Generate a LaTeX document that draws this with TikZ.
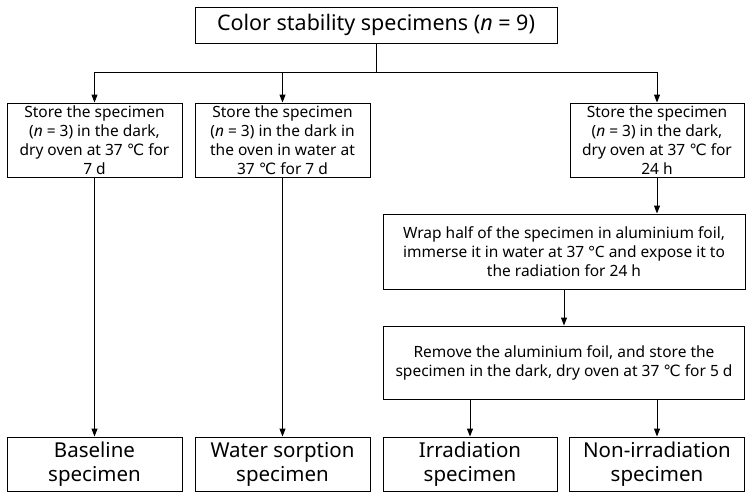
\documentclass[tikz,border=0pt]{standalone}
\usepackage{fontspec}
\setmainfont{Noto Sans}
\newfontfamily\symfont{DejaVu Sans}
\newcommand{\degc}{{\symfont ℃}}
\usetikzlibrary{arrows.meta}
\begin{document}
\begin{tikzpicture}[x=1pt, y=-1pt,
    box/.style={draw, line width=1pt, align=center, inner sep=2pt},
    small/.style={box, font=\fontsize{15.5}{19}\selectfont},
    big/.style={box, font=\fontsize{20.5}{24}\selectfont},
    arr/.style={-{Triangle[length=8pt, width=6pt]}, line width=1pt}]
    \useasboundingbox (0, 0) rectangle (753, 499);
    % top box
    \node [box, font=\fontsize{21.5}{26}\selectfont, minimum width=362pt, minimum height=36pt] (top) at (376, 25) {Color stability specimens (\textit{n} = 9)};
    % first row
    \node [small, minimum width=175pt, minimum height=74pt] (dry) at (94.5, 140) {Store the specimen\\(\textit{n} = 3) in the dark,\\dry oven at 37 \degc{} for\\7 d};
    \node [small, minimum width=175pt, minimum height=74pt] (wet) at (282.5, 140) {Store the specimen\\(\textit{n} = 3) in the dark in\\the oven in water at\\37 \degc{} for 7 d};
    \node [small, minimum width=174pt, minimum height=74pt] (dryday) at (657, 140) {Store the specimen\\(\textit{n} = 3) in the dark,\\dry oven at 37 \degc{} for\\24 h};
    % irradiation steps
    \node [small, minimum width=362pt, minimum height=75pt] (wrap) at (564, 251.5) {Wrap half of the specimen in aluminium foil,\\immerse it in water at 37 °C and expose it to\\the radiation for 24 h};
    \node [small, minimum width=361pt, minimum height=73pt] (remove) at (564, 362.5) {Remove the aluminium foil, and store the\\specimen in the dark, dry oven at 37 \degc{} for 5 d};
    % results
    \node [big, minimum width=175pt, minimum height=54pt] (base) at (94.5, 464) {Baseline\\specimen};
    \node [big, minimum width=175pt, minimum height=54pt] (sorp) at (282.5, 464) {Water sorption\\specimen};
    \node [big, minimum width=174pt, minimum height=54pt] (irr) at (470, 464) {Irradiation\\specimen};
    \node [big, minimum width=175pt, minimum height=54pt] (nonirr) at (657, 464) {Non-irradiation\\specimen};
    % connectors
    \coordinate (split) at (376, 72);
    \draw [line width=1pt] (top) -- (split);
    \draw [line width=1pt] (dry.north |- split) -- (dryday.north |- split);
    \draw [arr] (dry.north |- split) -- (dry);
    \draw [arr] (wet.north |- split) -- (wet);
    \draw [arr] (dryday.north |- split) -- (dryday);
    \draw [arr] (dryday) -- (dryday |- wrap.north);
    \draw [arr] (wrap) -- (remove);
    \draw [arr] (irr |- remove.south) -- (irr);
    \draw [arr] (nonirr |- remove.south) -- (nonirr);
    \draw [arr] (dry) -- (base);
    \draw [arr] (wet) -- (sorp);
\end{tikzpicture}
\end{document}
